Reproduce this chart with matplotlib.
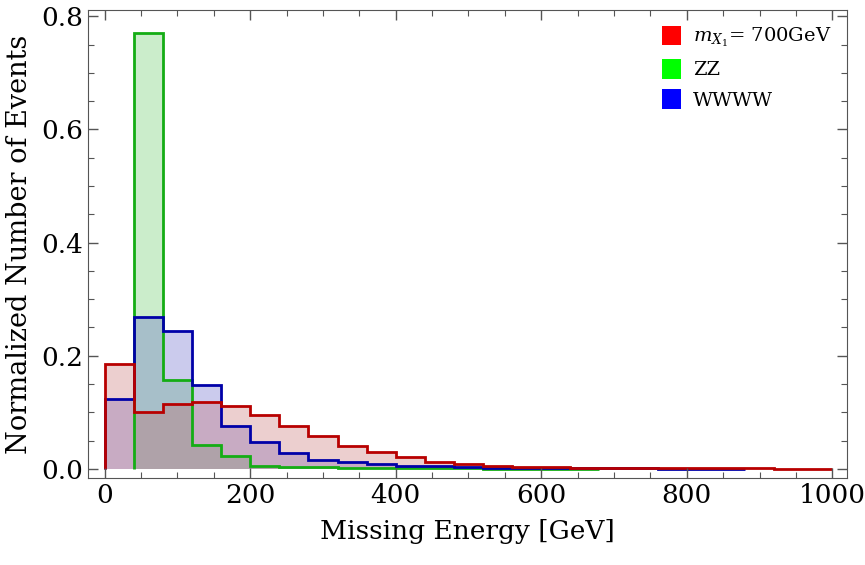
import matplotlib
matplotlib.use("Agg")
import matplotlib.pyplot as plt
import numpy as np
from matplotlib.patches import Patch
from matplotlib.ticker import MultipleLocator, FormatStrFormatter

plt.rcParams['font.family'] = ['DejaVu Serif']
plt.rcParams['mathtext.fontset'] = 'dejavuserif'

bin_width = 40

# normalized event counts per 40 GeV bin
signal_start = 0
signal = [0.185, 0.100, 0.115, 0.118, 0.111, 0.096, 0.075, 0.058, 0.041, 0.030,
          0.021, 0.013, 0.008, 0.006, 0.004, 0.003, 0.0025, 0.002, 0.0015, 0.0012,
          0.001, 0.001, 0.0008, 0.0007, 0.0006]
zz_start = 40
zz = [0.770, 0.157, 0.042, 0.022, 0.006, 0.0035, 0.003, 0.002, 0.0015, 0.0012,
      0.001, 0.0008, 0.0006, 0.0005, 0.0004, 0.0003]
wwww_start = 0
wwww = [0.124, 0.268, 0.244, 0.149, 0.075, 0.047, 0.029, 0.016, 0.013, 0.008,
        0.006, 0.005, 0.0035, 0.0025, 0.002, 0.0015, 0.0012, 0.001, 0.0008, 0.0006,
        0.0005, 0.0004]

labels = [r'$m_{X_1}$= 700GeV', 'ZZ', 'WWWW']
legend_colors = ['#ff0000', '#00ff00', '#0000ff']

# drawn in this order: green, blue, red on top
series = [
    (zz_start, zz, '#55c655', '#14ad14'),
    (wwww_start, wwww, '#5555c6', '#0000a8'),
    (signal_start, signal, '#c36262', '#b80000'),
]

fig = plt.figure(figsize=(8.65, 5.65), dpi=100)
ax = fig.add_axes([0.1017, 0.154, 0.8773, 0.8283])

for start, vals, fc, ec in series:
    edges = start + bin_width * np.arange(len(vals) + 1)
    ax.stairs(vals, edges, baseline=0, fill=True, color=fc, alpha=0.3, lw=0)
for start, vals, fc, ec in series:
    edges = start + bin_width * np.arange(len(vals) + 1)
    ax.stairs(vals, edges, baseline=0, color=ec, lw=2)

ax.set_xlim(-23, 1020)
ax.set_ylim(-0.016, 0.811)
ax.xaxis.set_major_locator(MultipleLocator(200))
ax.xaxis.set_minor_locator(MultipleLocator(50))
ax.yaxis.set_major_locator(MultipleLocator(0.2))
ax.yaxis.set_minor_locator(MultipleLocator(0.05))
ax.yaxis.set_major_formatter(FormatStrFormatter('%.1f'))
ax.tick_params(which='both', direction='in', top=True, right=True, color='#555555',
               labelsize=19)
ax.tick_params(which='major', length=7, width=1)
ax.tick_params(which='minor', length=4, width=0.8)
for s in ax.spines.values():
    s.set_color('#555555')

ax.set_xlabel('Missing Energy [GeV]', fontsize=19, labelpad=8)
ax.set_ylabel('Normalized Number of Events', fontsize=19.5, labelpad=6)

handles = [Patch(facecolor=c, edgecolor='none') for c in legend_colors]
ax.legend(handles, labels, loc='upper right', frameon=False, fontsize=14,
          handlelength=1.0, handleheight=1.2, handletextpad=0.6,
          labelspacing=0.5, borderaxespad=0.4)

fig.savefig('out.png', dpi=100)
